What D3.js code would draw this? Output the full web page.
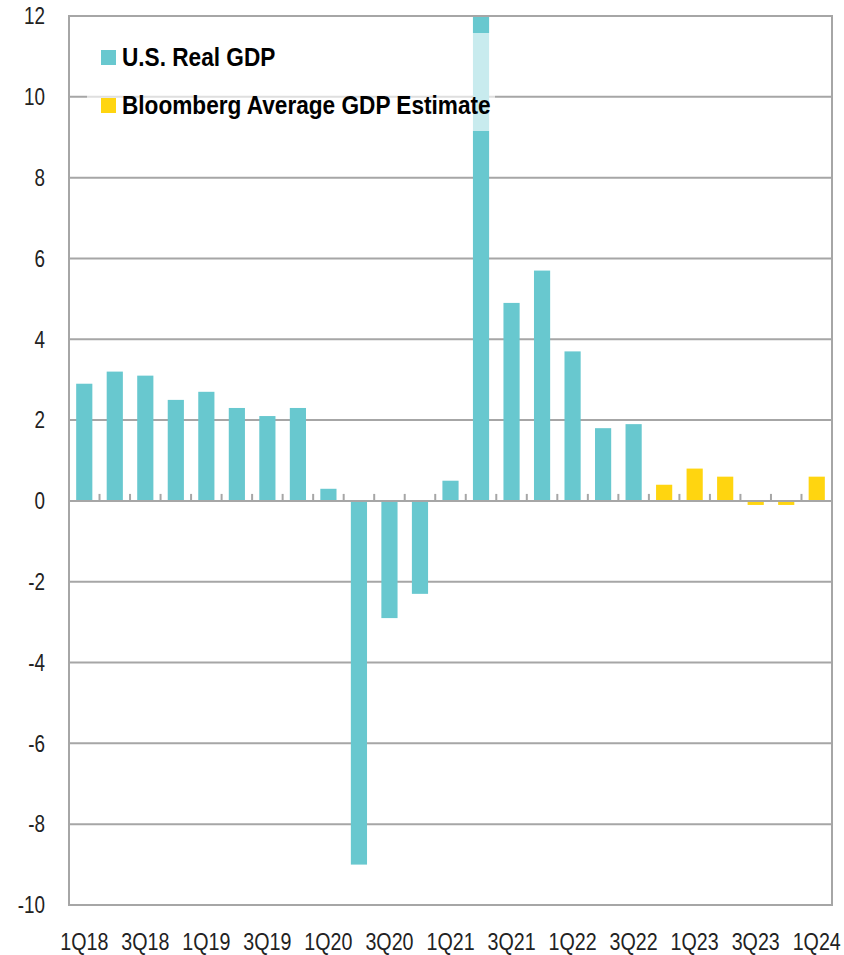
<!DOCTYPE html>
<html>
<head>
<meta charset="utf-8">
<script src="https://cdn.jsdelivr.net/npm/d3@7"></script>
<style>
  body { margin: 0; background: #fff; }
  text { font-family: "Liberation Sans Narrow", "Liberation Sans", Arial, sans-serif; }
</style>
</head>
<body>
<div id="chart"></div>
<script>
// quarters shown on the x axis
const quarters = ["1Q18","2Q18","3Q18","4Q18","1Q19","2Q19","3Q19","4Q19",
  "1Q20","2Q20","3Q20","4Q20","1Q21","2Q21","3Q21","4Q21",
  "1Q22","2Q22","3Q22","4Q22","1Q23","2Q23","3Q23","4Q23","1Q24"];
// actual real GDP (y/y %), null where estimates take over
const realGdp = [2.9, 3.2, 3.1, 2.5, 2.7, 2.3, 2.1, 2.3,
  0.3, -9.0, -2.9, -2.3, 0.5, 12.2, 4.9, 5.7,
  3.7, 1.8, 1.9, null, null, null, null, null, null];
// Bloomberg average estimate
const estimate = [null, null, null, null, null, null, null, null,
  null, null, null, null, null, null, null, null,
  null, null, null, 0.4, 0.8, 0.6, -0.1, -0.1, 0.6];
const yTicks = [-10, -8, -6, -4, -2, 0, 2, 4, 6, 8, 10, 12];
const xLabels = quarters.filter((d, i) => i % 2 === 0);
const seriesNames = ["U.S. Real GDP", "Bloomberg Average GDP Estimate"];
const colors = ["#68c8cf", "#ffd510"];

const W = 844, H = 955;
const margin = { top: 16, right: 12, bottom: 50, left: 69 };
const width = W - margin.left - margin.right;
const height = H - margin.top - margin.bottom;
const gridColor = "#a6a6a6";
const narrow = 0.82; // squeeze text horizontally, no condensed font here

const svg = d3.select("#chart").append("svg")
  .attr("width", W).attr("height", H)
  .append("g")
  .attr("transform", "translate(" + margin.left + "," + margin.top + ")");

const x = d3.scaleBand().domain(quarters).range([0, width]).paddingInner(0.47).paddingOuter(0.235);
const y = d3.scaleLinear().domain([-10, 12]).range([height, 0]);

svg.append("defs").append("clipPath").attr("id", "plotclip")
  .append("rect").attr("width", width).attr("height", height);

// gridlines
svg.selectAll(".grid").data(yTicks).enter().append("line")
  .attr("x1", 0).attr("x2", width)
  .attr("y1", d => y(d)).attr("y2", d => y(d))
  .attr("stroke", gridColor).attr("stroke-width", 2);

// y labels
svg.selectAll(".ylab").data(yTicks).enter().append("text")
  .attr("transform", d => "translate(-24," + y(d) + ") scale(" + narrow + ",1)")
  .attr("dy", "0.36em")
  .attr("text-anchor", "end")
  .style("font-size", "23px").style("fill", "#222")
  .text(d => d);

// bars
const rows = quarters.map((q, i) => ({
  q: q,
  v: realGdp[i] !== null ? realGdp[i] : estimate[i],
  s: realGdp[i] !== null ? 0 : 1
}));
svg.append("g").attr("clip-path", "url(#plotclip)")
  .selectAll("rect").data(rows).enter().append("rect")
  .attr("x", d => x(d.q))
  .attr("width", x.bandwidth())
  .attr("y", d => y(Math.max(0, d.v)))
  .attr("height", d => Math.abs(y(d.v) - y(0)))
  .attr("fill", d => colors[d.s]);

// zero axis ticks between bars
const step = x.step();
svg.selectAll(".tick0").data(d3.range(quarters.length + 1)).enter().append("line")
  .attr("x1", d => d * step).attr("x2", d => d * step)
  .attr("y1", y(0) - 7).attr("y2", y(0))
  .attr("stroke", gridColor).attr("stroke-width", 2);
svg.append("line")
  .attr("x1", 0).attr("x2", width).attr("y1", y(0)).attr("y2", y(0))
  .attr("stroke", gridColor).attr("stroke-width", 2);

// x labels
svg.selectAll(".xlab").data(xLabels).enter().append("text")
  .attr("transform", d => "translate(" + (x(d) + x.bandwidth() / 2) + "," + (height + 45) + ") scale(" + narrow + ",1)")
  .attr("text-anchor", "middle")
  .style("font-size", "24px").style("fill", "#222")
  .text(d => d);

// legend with translucent white box
svg.append("rect")
  .attr("x", 18).attr("y", 17).attr("width", 408).attr("height", 98)
  .attr("fill", "#fff").attr("fill-opacity", 0.64);
const leg = svg.selectAll(".leg").data(seriesNames).enter().append("g")
  .attr("transform", (d, i) => "translate(32," + (34 + i * 48) + ")");
leg.append("rect").attr("width", 15).attr("height", 15).attr("fill", (d, i) => colors[i]);
leg.append("text")
  .attr("transform", "translate(21,16) scale(0.87,1)")
  .style("font-size", "26px").style("font-weight", "bold").style("fill", "#000")
  .text(d => d);

// plot border
svg.append("rect")
  .attr("width", width).attr("height", height)
  .attr("fill", "none").attr("stroke", gridColor).attr("stroke-width", 2);
</script>
</body>
</html>
